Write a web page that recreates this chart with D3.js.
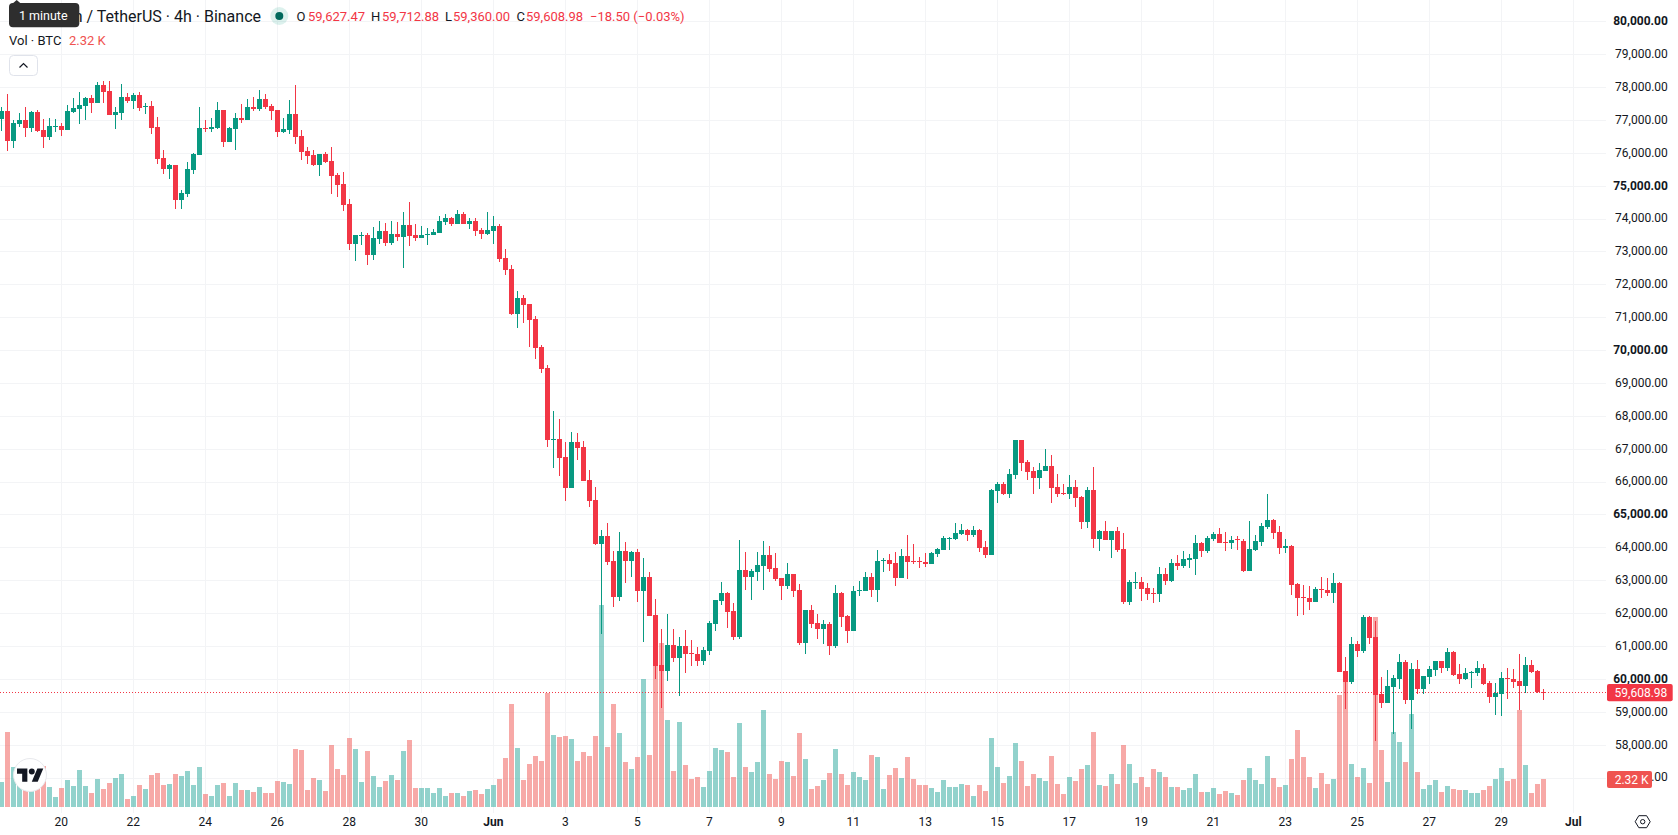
<!DOCTYPE html>
<html>
<head>
<meta charset="utf-8">
<title>BTC / USDT 4h</title>
<script src="https://cdn.jsdelivr.net/npm/d3@7"></script>
<style>
  html, body { margin: 0; padding: 0; background: #fff; overflow: hidden; }
  svg { display: block; }
  text { font-family: Roboto, "Noto Sans", sans-serif; }
</style>
</head>
<body>
<svg id="chart" width="1678" height="835"></svg>
<script>
// Four-hour BTC/USDT bars, oldest first: open, high, low, close.
const candles = [
[77041,77406,76676,77284],[77284,77811,76068,76372],[76372,77010,76159,76919],[76889,77223,76798,77010],[77010,77406,76493,76767],
[76767,77284,76645,77254],[77254,77314,76645,76676],[76706,77041,76159,76493],[76493,77071,76402,76828],[76798,77041,76645,76828],
[76828,76919,76524,76706],[76706,77466,76706,77284],[77254,77679,77223,77375],[77345,77862,76889,77466],[77436,77710,77010,77679],
[77679,77771,77223,77527],[77527,78166,77527,78075],[78075,78196,77527,77862],[77892,78196,77162,77162],[77162,77406,76737,77254],
[77223,78105,77010,77710],[77710,77831,77527,77588],[77588,77831,77345,77771],[77771,77862,77284,77375],[77406,77527,77193,77436],
[77436,77588,76585,76767],[76798,77102,75672,75824],[75855,76098,75368,75520],[75520,75672,75216,75642],[75642,75642,74304,74578],
[74578,74882,74304,74790],[74760,75733,74669,75520],[75490,76007,75368,75976],[75946,77406,75946,76767],[76767,77010,76645,76737],
[76737,77071,76645,76798],[76767,77558,76737,77314],[77314,77314,76189,76341],[76341,76798,76341,76767],[76737,77223,76098,77071],
[77071,77497,76919,77010],[77010,77649,77010,77406],[77406,77710,77284,77345],[77345,77923,77284,77649],[77649,77801,77345,77406],
[77436,77497,77010,77284],[77314,77314,76493,76645],[76645,77071,76615,76737],[76706,77619,76585,77193],[77193,78075,76280,76493],
[76524,76706,75794,76037],[76068,76189,75672,75916],[75946,76098,75611,75642],[75642,75976,75307,75976],[75976,76037,75703,75733],
[75763,76189,74760,75307],[75338,75399,74669,75034],[75064,75429,74243,74426],
[74456,74608,73057,73240],[73240,73513,72723,73513],[73483,73605,73209,73513],[73513,73574,72601,72905],[72905,73757,72753,73422],
[73392,73939,73240,73635],[73635,73878,73179,73270],[73270,73939,73209,73544],[73544,73909,73331,73453],[73453,74213,72510,73818],
[73818,74517,73179,73483],[73513,73848,73331,73422],[73422,73787,73422,73513],[73513,73726,73209,73544],[73513,73696,73513,73605],
[73574,74091,73574,73939],[73909,74152,73818,74030],[74030,74061,73787,73848],[73848,74274,73848,74152],[74152,74213,73848,73848],
[73848,74030,73696,73939],[73939,74030,73483,73635],[73665,73726,73392,73544],[73544,74213,73513,73665],[73635,74091,73240,73787],
[73787,73848,72692,72784],[72814,73088,72297,72449],[72479,72601,71080,71111],[71111,71810,70685,71598],[71598,71689,70837,71385],
[71415,71415,70107,70929],[70959,71050,69742,70077],[70107,70168,69317,69438],[69469,69560,67066,67279],[67279,68161,66428,67309],
[67309,67918,66184,66732],[66762,67218,65424,65819],[65819,67523,65819,67218],[67218,67492,66671,67036],[67066,67249,66032,66032],
[66063,66367,65242,65424],
[65455,65850,64086,64117],[64117,64542,61380,64360],[64360,64755,63478,63569],[63600,63904,62201,62505],[62505,64482,62383,63904],
[63904,64178,62931,63600],[63600,63904,63113,63873],[63873,63965,62353,62687],[62687,63691,61136,63113],[63113,63265,61927,61927],
[61958,62444,60011,60406],[60437,61532,59129,60254],[60254,61988,59950,61045],[61045,61532,60528,60650],[60650,61288,59494,61015],
[61015,61501,60194,60771],[60802,61197,60406,60771],[60771,60985,60406,60559],[60559,60985,60437,60893],[60863,61775,60741,61714],
[61684,62414,61471,62414],[62383,62961,62262,62627],[62627,62657,61562,62049],[62079,62322,61197,61288],[61288,64238,61228,63326],
[63326,63873,62718,63113],[63113,63356,62414,63296],[63265,63873,62991,63478],[63448,64208,62718,63782],[63782,64056,63265,63356],
[63387,63843,62991,63052],[63083,63083,62414,62839],[62839,63539,62748,63204],[63204,63204,62505,62687],[62718,62900,61045,61106],
[61106,62110,60771,62110],[62110,62262,61562,61684],[61714,61988,61228,61532],[61532,61805,61076,61684],[61684,61745,60741,61015],
[61015,62870,60954,62627],[62627,62657,61593,61897],[61927,61958,61106,61471],[61471,62839,61471,62687],[62687,62991,62535,62718],
[62687,63265,62687,63113],[63113,63235,62505,62718],[62718,63934,62353,63600],[63600,63691,63265,63630],[63630,63813,63296,63508],
[63539,63873,62839,63083],[63083,63965,63083,63752],[63752,64390,63052,63569],[63600,64117,63508,63569],[63600,63721,63387,63569],
[63569,63843,63417,63508],[63508,63873,63508,63843],[63813,63995,63721,63965],[63934,64360,63934,64299],[64269,64330,63934,64299],
[64269,64755,64238,64451],
[64421,64725,64391,64543],[64543,64573,64208,64391],[64391,64664,64330,64543],[64543,64573,63874,63995],[64026,64208,63691,63782],
[63782,65790,63782,65759],[65729,66002,65364,65942],[65942,66002,65607,65638],[65638,66398,65516,66246],[66215,67280,66094,67280],
[67280,67280,66337,66580],[66611,66672,66063,66307],[66337,66459,65638,66124],[66124,66580,65790,66367],[66337,67006,66337,66489],
[66489,66824,65364,65820],[65850,66246,65546,65638],[65668,65942,65607,65638],[65638,66215,65486,65850],[65850,66063,65242,65516],
[65546,65577,64573,64786],[64786,65850,64604,65759],[65759,66459,63995,64269],[64269,64543,63904,64512],[64512,64816,64239,64239],
[64239,64512,63691,64512],[64512,64634,63874,63935],[63965,64452,62292,62353],[62353,63022,62262,62961],[62931,63265,62748,62961],
[62961,63113,62384,62748],[62779,62931,62414,62596],[62627,62779,62323,62596],[62596,63418,62353,63205],[63205,63387,62870,62992],
[62992,63661,62961,63539],[63539,63782,63326,63448],[63448,63904,63387,63661],[63630,63813,63387,63691],[63661,64391,63174,64147],
[64147,64178,63722,63904],[63904,64360,63843,64299],[64269,64482,64208,64421],[64421,64604,64147,64147],[64178,64482,63904,64147],
[64147,64360,63965,64239],[64259,64360,63935,64229],[64208,64269,63265,63296],[63296,64816,63296,63965],[63935,64391,63904,64208],
[64178,64756,64056,64664],[64634,65638,64573,64847],[64847,64877,64269,64452],[64482,64664,63813,63995],[63995,64269,63843,64056],
[64056,64086,62566,62870],[62900,62931,61927,62474],[62505,62870,61958,62474],[62474,62839,62110,62353],[62353,62809,62353,62748],
[62748,63113,62474,62718],[62718,63083,62535,62627],[62627,63235,62322,62931],[62931,62961,60224,60224],[60254,60680,59099,59920],
[59920,61288,59859,61076],[61076,61167,60680,60863],[60863,61958,60802,61897],[61897,61927,61076,61258],[61288,61775,58126,59525],
[59555,60072,59129,59281],[59281,60285,59281,59798],[59768,60133,58338,60042],[60011,60771,59707,60528],[60528,60589,59251,59373],
[59373,60498,58491,60315],[60315,60589,59555,59707],[59707,60102,59555,60102],[60072,60406,59859,60315],[60285,60559,60102,60559],
[60559,60559,60194,60346],[60346,60954,60254,60832],[60832,60863,60102,60133],[60163,60467,59859,60011],[60011,60346,59981,60194],
[60204,60254,59737,60234],[60194,60559,60102,60346],[60346,60467,59829,59859],[59890,59950,59281,59464],[59464,59890,58916,59585],
[59555,60224,58886,60042],[60042,60346,59403,60011],[60011,60315,59737,59920],[59950,60771,59069,59798],[59798,60680,59585,60437],
[60437,60589,60194,60224],[60254,60285,59585,59627.48],[59627.47,59712.88,59360,59608.98]
];

// Traded volume per bar, in thousands of BTC.
const volumes = [
2.07,6.22,3.31,2.79,2.24,1.74,2.24,3.40,1.66,0.83,
1.57,2.24,1.74,3.07,1.74,1.16,2.32,1.49,1.99,2.40,
2.73,0.66,0.91,1.82,1.49,2.65,2.82,1.82,1.91,2.73,
2.57,2.98,1.82,3.31,1.08,0.91,1.82,1.99,0.91,1.99,
1.41,1.41,1.24,1.66,1.16,1.16,2.15,2.07,1.91,4.81,
4.72,1.41,2.40,2.24,1.33,5.14,3.15,2.65,5.72,4.81,
2.07,4.64,2.57,1.66,2.15,2.65,2.24,4.64,5.55,1.57,
1.57,1.57,1.16,1.57,0.91,1.16,1.16,0.91,1.33,1.41,
1.08,1.49,1.82,2.32,4.06,8.54,4.89,2.24,3.56,4.23,
3.81,9.45,5.97,5.80,5.88,5.64,3.81,4.56,4.23,5.88,
16.74,4.97,8.54,6.13,3.73,3.15,4.14,10.61,4.31,11.90,
13.59,7.21,2.98,7.04,3.48,2.32,2.49,1.66,2.98,4.89,
4.72,4.56,2.49,6.96,3.31,2.90,3.73,8.04,2.73,2.32,
3.81,3.73,2.57,6.13,3.98,1.49,1.74,2.24,2.82,4.81,
2.73,1.82,2.90,2.49,2.24,4.31,4.14,1.49,2.65,3.23,
2.40,4.14,2.32,1.82,1.82,1.57,1.24,2.24,1.66,1.66,
1.91,1.82,0.91,1.82,1.33,5.72,3.31,1.99,2.57,5.30,
3.81,1.74,2.73,2.40,2.15,4.23,1.91,1.08,2.49,2.15,
3.15,3.48,6.22,1.82,1.74,2.73,1.91,5.14,3.56,1.99,
2.49,1.66,3.15,2.90,2.49,1.66,1.66,1.41,1.57,2.73,
1.24,1.24,1.57,1.08,1.33,1.16,0.99,2.24,3.23,2.24,
1.91,4.23,2.40,1.66,1.82,3.98,6.38,4.14,2.49,1.57,
2.82,1.91,2.32,9.28,10.36,3.56,2.49,3.23,1.99,15.75,
4.72,2.07,6.22,5.39,3.73,7.71,2.90,1.49,1.82,2.24,
1.24,1.74,1.49,1.41,1.41,1.16,1.16,1.41,1.74,2.32,
3.23,2.15,2.32,8.04,3.48,1.16,1.91,2.32
];

const firstBar = Date.UTC(2024, 4, 18, 8);
const barHours = 4;

const priceTicks = d3.range(80000, 56999, -1000);
const boldPrices = [80000, 75000, 70000, 65000, 60000];

const tickDates = [
  [4,20],[4,22],[4,24],[4,26],[4,28],[4,30],
  [5,1],[5,3],[5,5],[5,7],[5,9],[5,11],[5,13],[5,15],[5,17],[5,19],[5,21],[5,23],[5,25],[5,27],[5,29],
  [6,1]
].map(([m, d]) => new Date(Date.UTC(2024, m, d)));
const tickLabels = ["20","22","24","26","28","30","Jun","3","5","7","9","11","13","15","17","19","21","23","25","27","29","Jul"];
const boldLabels = ["Jun", "Jul"];

const UP = "#089981", DOWN = "#f23645";
const VOL_UP = "rgba(38,166,154,0.5)", VOL_DOWN = "rgba(239,83,80,0.5)";
const INK = "#131722", GRID = "#f3f4f6";

const bars = candles.map((c, i) => ({
  date: new Date(firstBar + i * barHours * 3600e3),
  open: c[0], high: c[1], low: c[2], close: c[3],
  volume: volumes[i]
}));

const paneRight = 1606, paneBottom = 813, volBase = 807;

const x = d3.scaleUtc()
  .domain([new Date(Date.UTC(2024, 4, 20)), new Date(Date.UTC(2024, 5, 1))])
  .range([61.3, 493.3]);
const y = d3.scaleLinear().domain([80000, 59000]).range([21.7, 712.3]);
const v = d3.scaleLinear().domain([0, 2.32]).range([volBase, 779]);

const crisp = p => Math.floor(p) + 0.5;
const svg = d3.select("#chart");

// Grid
const grid = svg.append("g").attr("stroke", GRID).attr("stroke-width", 1);
grid.selectAll("line.h").data(priceTicks).join("line")
  .attr("class", "h").attr("x1", 0).attr("x2", paneRight)
  .attr("y1", d => crisp(y(d))).attr("y2", d => crisp(y(d)));
grid.selectAll("line.v").data(tickDates).join("line")
  .attr("class", "v").attr("y1", 0).attr("y2", paneBottom)
  .attr("x1", d => crisp(x(d))).attr("x2", d => crisp(x(d)));

// Volume histogram sits under the candles
svg.append("g").selectAll("rect").data(bars).join("rect")
  .attr("x", d => Math.floor(x(d.date)) - 2)
  .attr("width", 5)
  .attr("y", d => Math.round(v(d.volume)))
  .attr("height", d => volBase - Math.round(v(d.volume)))
  .attr("fill", d => d.close >= d.open ? VOL_UP : VOL_DOWN);

// Last-price line
const lastBar = bars[bars.length - 1];
svg.append("line")
  .attr("x1", 0).attr("x2", paneRight)
  .attr("y1", crisp(y(lastBar.close))).attr("y2", crisp(y(lastBar.close)))
  .attr("stroke", DOWN).attr("stroke-width", 1).attr("stroke-dasharray", "1 2");

// Candles
const candle = svg.append("g").selectAll("g").data(bars).join("g")
  .attr("fill", d => d.close >= d.open ? UP : DOWN);
candle.append("rect")
  .attr("x", d => Math.floor(x(d.date)))
  .attr("width", 1)
  .attr("y", d => Math.round(y(d.high)))
  .attr("height", d => Math.max(1, Math.round(y(d.low)) - Math.round(y(d.high))));
candle.append("rect")
  .attr("x", d => Math.floor(x(d.date)) - 2)
  .attr("width", 5)
  .attr("y", d => Math.round(y(Math.max(d.open, d.close))))
  .attr("height", d => Math.max(1, Math.round(y(Math.min(d.open, d.close))) - Math.round(y(Math.max(d.open, d.close)))));

// Price axis
const yAxis = d3.axisRight(y).tickValues(priceTicks).tickSize(0).offset(0).tickFormat(d3.format(",.2f"));
const yG = svg.append("g").attr("transform", "translate(1667.8,0)").call(yAxis);
yG.select(".domain").remove();
yG.selectAll("text")
  .attr("x", 0).attr("dy", "0.28em").attr("text-anchor", "end")
  .attr("font-size", 12).attr("fill", INK)
  .style("font-family", "Roboto, sans-serif")
  .attr("font-weight", d => boldPrices.includes(d) ? 700 : 400);

// Time axis
const xAxis = d3.axisBottom(x).tickValues(tickDates).tickSize(0).offset(0)
  .tickFormat((d, i) => tickLabels[i]);
const xG = svg.append("g").attr("transform", "translate(0,813)").call(xAxis);
xG.select(".domain").remove();
xG.selectAll("text")
  .attr("y", 13).attr("dy", 0)
  .attr("font-size", 12).attr("fill", INK)
  .style("font-family", "Roboto, sans-serif")
  .attr("font-weight", (d, i) => boldLabels.includes(tickLabels[i]) ? 700 : 400);

// Last-price and last-volume tags
const fmt = d3.format(",.2f");
const priceTag = svg.append("g");
priceTag.append("rect").attr("x", 1607).attr("y", 684).attr("width", 65.7).attr("height", 17.3).attr("rx", 2).attr("fill", DOWN);
priceTag.append("text").attr("x", 1667.3).attr("y", 697).attr("text-anchor", "end")
  .attr("font-size", 12).attr("fill", "#fff").text(fmt(lastBar.close));

const volTag = svg.append("g");
volTag.append("rect").attr("x", 1607).attr("y", 771).attr("width", 45).attr("height", 17).attr("rx", 2).attr("fill", "#ef5350");
volTag.append("text").attr("x", 1614.7).attr("y", 784).attr("text-anchor", "start")
  .attr("font-size", 12).attr("fill", "#fff").text(lastBar.volume.toFixed(2) + " K");

// Header: symbol line
svg.append("text").attr("x", 261).attr("y", 21.5).attr("text-anchor", "end").attr("font-size", 16).attr("fill", INK)
  .text("Bitcoin / TetherUS · 4h · Binance");
svg.append("circle").attr("cx", 279.3).attr("cy", 16).attr("r", 9).attr("fill", "rgba(8,153,129,0.14)");
svg.append("circle").attr("cx", 279.3).attr("cy", 16).attr("r", 4).attr("fill", "#00695c");

// Header: OHLC readout
const prevClose = bars[bars.length - 2].close;
const change = lastBar.close - prevClose;
const minus = "\u2212";
const readout = [
  ["O", lastBar.open, 296.5, 308],
  ["H", lastBar.high, 371, 382],
  ["L", lastBar.low, 445, 453],
  ["C", lastBar.close, 516.5, 526]
];
readout.forEach(([k, val, kx, nx]) => {
  svg.append("text").attr("x", kx).attr("y", 20.5).attr("font-size", 13).attr("fill", INK).text(k);
  svg.append("text").attr("x", nx).attr("y", 20.5).attr("font-size", 13).attr("fill", DOWN).text(fmt(val));
});
svg.append("text").attr("x", 590).attr("y", 20.5).attr("font-size", 13).attr("fill", DOWN)
  .text(`${minus}${fmt(Math.abs(change))} (${minus}${Math.abs(change / prevClose * 100).toFixed(2)}%)`);

// Header: volume line
svg.append("text").attr("x", 9).attr("y", 45).attr("font-size", 13).attr("fill", INK).text("Vol · BTC");
svg.append("text").attr("x", 69).attr("y", 45).attr("font-size", 13).attr("fill", "#ef5350")
  .text(lastBar.volume.toFixed(2) + " K");

// Collapse button
svg.append("rect").attr("x", 9.5).attr("y", 55.5).attr("width", 28).attr("height", 20).attr("rx", 4)
  .attr("fill", "#fff").attr("stroke", "#e0e3eb");
svg.append("path").attr("d", "M19.5 67.5l4-4 4 4").attr("fill", "none").attr("stroke", INK).attr("stroke-width", 1.2);

// Hover tooltip over the symbol name
svg.append("path").attr("d", "M12 4l4.7-4 4.7 4z").attr("fill", "#2e2e2e");
svg.append("rect").attr("x", 9).attr("y", 3).attr("width", 70.3).attr("height", 24.3).attr("rx", 4).attr("fill", "#2e2e2e");
svg.append("text").attr("x", 43.2).attr("y", 19.5).attr("text-anchor", "middle")
  .attr("font-size", 12.5).attr("fill", "#fff").text("1 minute");

// Attribution badge
svg.append("circle").attr("cx", 30).attr("cy", 775).attr("r", 16.5)
  .attr("fill", "#fff").attr("stroke", "#e8e9ed");
const logo = svg.append("g").attr("transform", "translate(17,765.5) scale(0.74)").attr("fill", "#131722");
logo.append("path").attr("d", "M14 22H7V11H0V4h14v18zM28 22h-8l7.5-18h8L28 22z");
logo.append("circle").attr("cx", 20).attr("cy", 8).attr("r", 4);

// Settings glyph in the axis corner
svg.append("path").attr("d", "M1635.2 821.7l3.6-6h7.8l3.6 6-3.6 6h-7.8z")
  .attr("fill", "none").attr("stroke", INK).attr("stroke-width", 1);
svg.append("circle").attr("cx", 1642.7).attr("cy", 821.7).attr("r", 2.2)
  .attr("fill", "none").attr("stroke", INK).attr("stroke-width", 1);
</script>
</body>
</html>
